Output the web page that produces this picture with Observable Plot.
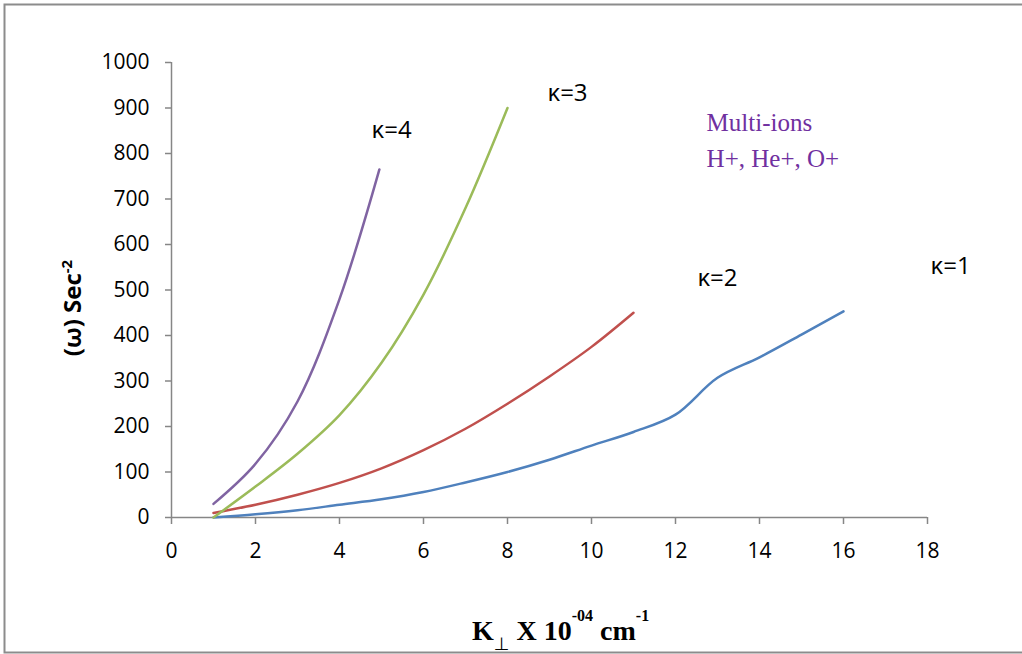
<!DOCTYPE html>
<html>
<head>
<meta charset="utf-8">
<script src="https://cdn.jsdelivr.net/npm/d3@7"></script>
<script src="https://cdn.jsdelivr.net/npm/@observablehq/plot@0.6"></script>
<style>
  html, body { margin: 0; padding: 0; background: white; }
  svg { display: block; }
</style>
</head>
<body>
<div id="chart"></div>
<script>
// ---- data ----
const seriesNames = ["κ=1", "κ=2", "κ=3", "κ=4"];
const seriesColors = ["#4F81BD", "#C0504D", "#9BBB59", "#8064A2"];

const k1x = [1, 2, 3, 4, 5, 6, 7, 8, 9, 10, 11, 12, 13, 14, 15, 16];
const k1y = [0, 7, 16, 28, 40, 56, 77, 100, 127, 158, 188, 226, 307, 352, 402, 453];

const k2x = [1, 2, 3, 4, 5, 6, 7, 8, 9, 10, 11];
const k2y = [10, 28, 50, 76, 108, 148, 195, 250, 310, 375, 450];

const k3x = [1, 2, 3, 4, 5, 6, 7, 8];
const k3y = [0, 68, 140, 225, 340, 490, 680, 900];

const k4x = [1, 2, 3, 4, 4.95];
const k4y = [30, 118, 255, 480, 765];

const xTicks = [0, 2, 4, 6, 8, 10, 12, 14, 16, 18];
const yTicks = [0, 100, 200, 300, 400, 500, 600, 700, 800, 900, 1000];

// curve labels (data coordinates)
const labelText = ["κ=1", "κ=2", "κ=3", "κ=4"];
const labelX = [18.55, 13.0, 9.43, 5.24];
const labelY = [552, 525, 932, 851];

const noteText = ["Multi-ions", "H+, He+, O+"];
const noteX = [12.74, 12.74];
const noteY = [868, 789];

// ---- build tables ----
const xs = [k1x, k2x, k3x, k4x], ys = [k1y, k2y, k3y, k4y];
const lineData = [];
seriesNames.forEach((s, i) => xs[i].forEach((x, j) => lineData.push({s, x, y: ys[i][j]})));
const labels = labelText.map((t, i) => ({t, x: labelX[i], y: labelY[i]}));
const notes = noteText.map((t, i) => ({t, x: noteX[i], y: noteY[i]}));

const chart = Plot.plot({
  width: 1022,
  height: 654,
  marginLeft: 171,
  marginRight: 95,
  marginTop: 62,
  marginBottom: 137,
  x: {domain: [0, 18]},
  y: {domain: [0, 1000]},
  color: {domain: seriesNames, range: seriesColors},
  style: {fontFamily: "'Open Sans', sans-serif", background: "white", color: "black", overflow: "visible"},
  marks: [
    Plot.axisX({ticks: xTicks, tickSize: 7, tickPadding: 19, fontSize: 21, stroke: "#868686", strokeWidth: 1.5, fill: "black", label: null, tickFormat: d => String(d)}),
    Plot.axisY({ticks: yTicks, tickSize: 6, tickPadding: 16, fontSize: 21, stroke: "#868686", strokeWidth: 1.5, fill: "black", label: null, tickFormat: d => String(d)}),
    Plot.ruleY([0], {stroke: "#868686", strokeWidth: 1.5}),
    Plot.ruleX([0], {stroke: "#868686", strokeWidth: 1.5}),
    Plot.line(lineData, {x: "x", y: "y", z: "s", stroke: "s", strokeWidth: 2.5, curve: "catmull-rom"}),
    Plot.text(labels, {x: "x", y: "y", text: "t", fontSize: 24, fill: "black"}),
    Plot.text(notes, {x: "x", y: "y", text: "t", fontSize: 25, fill: "#7030A0", textAnchor: "start", fontFamily: "'Liberation Serif', 'Times New Roman', serif"})
  ]
});

const svg = d3.select(chart);

// outer border of the chart area
svg.append("rect")
  .attr("x", 4.5).attr("y", 4.5)
  .attr("width", 1030).attr("height", 648)
  .attr("fill", "none").attr("stroke", "#8c8c8c").attr("stroke-width", 2);

// y-axis title
const yt = svg.append("text")
  .attr("transform", "translate(81,308) rotate(-90)")
  .attr("text-anchor", "middle")
  .attr("font-family", "'Open Sans', sans-serif")
  .attr("font-weight", "bold")
  .attr("font-size", 24)
  .attr("fill", "black");
yt.append("tspan").text("(ω) Sec");
yt.append("tspan").attr("font-size", 15).attr("dy", -9).text("-2");

// x-axis title
const xt = svg.append("text")
  .attr("x", 472).attr("y", 640)
  .attr("text-anchor", "start")
  .attr("font-family", "'Liberation Serif', 'Times New Roman', serif")
  .attr("font-weight", "bold")
  .attr("font-size", 28)
  .attr("fill", "black");
xt.append("tspan").text("K");
xt.append("tspan").attr("font-size", 18).attr("dy", 10).attr("font-family", "'DejaVu Sans', sans-serif").attr("font-weight", "normal").text("⊥");
xt.append("tspan").attr("dy", -10).text(" X 10");
xt.append("tspan").attr("font-size", 16).attr("dy", -19).text("-04");
xt.append("tspan").attr("dy", 19).text(" cm");
xt.append("tspan").attr("font-size", 16).attr("dy", -19).text("-1");

document.getElementById("chart").appendChild(chart);
</script>
</body>
</html>
